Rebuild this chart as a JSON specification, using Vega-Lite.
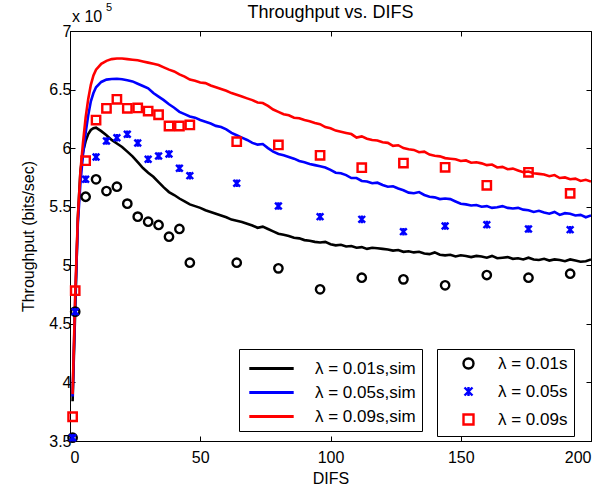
{
  "$schema": "https://vega.github.io/schema/vega-lite/v6.json",
  "width": 521,
  "height": 410,
  "autosize": {"type": "none"},
  "padding": {"left": 70, "top": 31, "right": 16, "bottom": 52},
  "background": "white",
  "title": {"text": "Throughput vs. DIFS", "font": "Liberation Sans", "fontSize": 18, "fontWeight": "normal", "color": "black", "anchor": "middle", "offset": -20},
  "config": {
    "view": {"stroke": "black", "strokeWidth": 1},
    "axis": {"grid": false, "labelFont": "Liberation Sans", "labelFontSize": 16, "labelColor": "black", "tickColor": "black", "domainColor": "black", "titleFont": "Liberation Sans", "titleFontSize": 16, "titleFontWeight": "normal", "titleColor": "black", "tickSize": -5, "labelPadding": 4},
    "legend": {"labelFont": "Liberation Sans", "labelFontSize": 17, "labelColor": "black"}
  },
  "datasets": {
    "sim": [
      {"DIFS":1,"bps":384000,"series":"λ = 0.01s,sim"},{"DIFS":2,"bps":462000,"series":"λ = 0.01s,sim"},{"DIFS":3,"bps":540000,"series":"λ = 0.01s,sim"},{"DIFS":4,"bps":580000,"series":"λ = 0.01s,sim"},{"DIFS":5,"bps":597000,"series":"λ = 0.01s,sim"},{"DIFS":6,"bps":606000,"series":"λ = 0.01s,sim"},{"DIFS":7,"bps":612000,"series":"λ = 0.01s,sim"},{"DIFS":8,"bps":615500,"series":"λ = 0.01s,sim"},{"DIFS":9,"bps":617000,"series":"λ = 0.01s,sim"},{"DIFS":10,"bps":617500,"series":"λ = 0.01s,sim"},
      {"DIFS":12,"bps":614500,"series":"λ = 0.01s,sim"},{"DIFS":14,"bps":611000,"series":"λ = 0.01s,sim"},{"DIFS":16,"bps":607000,"series":"λ = 0.01s,sim"},{"DIFS":18,"bps":604000,"series":"λ = 0.01s,sim"},{"DIFS":20,"bps":601000,"series":"λ = 0.01s,sim"},{"DIFS":22,"bps":597000,"series":"λ = 0.01s,sim"},{"DIFS":24,"bps":593000,"series":"λ = 0.01s,sim"},{"DIFS":26,"bps":588000,"series":"λ = 0.01s,sim"},{"DIFS":28,"bps":583000,"series":"λ = 0.01s,sim"},{"DIFS":30,"bps":579000,"series":"λ = 0.01s,sim"},
      {"DIFS":32,"bps":575600,"series":"λ = 0.01s,sim"},{"DIFS":34,"bps":571000,"series":"λ = 0.01s,sim"},{"DIFS":36,"bps":566500,"series":"λ = 0.01s,sim"},{"DIFS":38,"bps":562500,"series":"λ = 0.01s,sim"},{"DIFS":40,"bps":560000,"series":"λ = 0.01s,sim"},{"DIFS":42,"bps":557000,"series":"λ = 0.01s,sim"},{"DIFS":44,"bps":554500,"series":"λ = 0.01s,sim"},{"DIFS":46,"bps":552000,"series":"λ = 0.01s,sim"},{"DIFS":48,"bps":550500,"series":"λ = 0.01s,sim"},{"DIFS":50,"bps":549000,"series":"λ = 0.01s,sim"},
      {"DIFS":52,"bps":547000,"series":"λ = 0.01s,sim"},{"DIFS":54,"bps":545500,"series":"λ = 0.01s,sim"},{"DIFS":56,"bps":544000,"series":"λ = 0.01s,sim"},{"DIFS":58,"bps":542500,"series":"λ = 0.01s,sim"},{"DIFS":60,"bps":541000,"series":"λ = 0.01s,sim"},{"DIFS":62,"bps":539000,"series":"λ = 0.01s,sim"},{"DIFS":64,"bps":538000,"series":"λ = 0.01s,sim"},{"DIFS":66,"bps":537000,"series":"λ = 0.01s,sim"},{"DIFS":68,"bps":535500,"series":"λ = 0.01s,sim"},{"DIFS":70,"bps":534000,"series":"λ = 0.01s,sim"},
      {"DIFS":72,"bps":532000,"series":"λ = 0.01s,sim"},{"DIFS":74,"bps":533000,"series":"λ = 0.01s,sim"},{"DIFS":76,"bps":531000,"series":"λ = 0.01s,sim"},{"DIFS":78,"bps":529000,"series":"λ = 0.01s,sim"},{"DIFS":80,"bps":527000,"series":"λ = 0.01s,sim"},{"DIFS":82,"bps":526000,"series":"λ = 0.01s,sim"},{"DIFS":84,"bps":525000,"series":"λ = 0.01s,sim"},{"DIFS":86,"bps":523500,"series":"λ = 0.01s,sim"},{"DIFS":88,"bps":523000,"series":"λ = 0.01s,sim"},{"DIFS":90,"bps":521500,"series":"λ = 0.01s,sim"},
      {"DIFS":92,"bps":521000,"series":"λ = 0.01s,sim"},{"DIFS":94,"bps":520000,"series":"λ = 0.01s,sim"},{"DIFS":96,"bps":519500,"series":"λ = 0.01s,sim"},{"DIFS":98,"bps":520000,"series":"λ = 0.01s,sim"},{"DIFS":100,"bps":518000,"series":"λ = 0.01s,sim"},{"DIFS":102,"bps":517000,"series":"λ = 0.01s,sim"},{"DIFS":104,"bps":517500,"series":"λ = 0.01s,sim"},{"DIFS":106,"bps":516000,"series":"λ = 0.01s,sim"},{"DIFS":108,"bps":516500,"series":"λ = 0.01s,sim"},{"DIFS":110,"bps":515000,"series":"λ = 0.01s,sim"},
      {"DIFS":112,"bps":515500,"series":"λ = 0.01s,sim"},{"DIFS":114,"bps":514000,"series":"λ = 0.01s,sim"},{"DIFS":116,"bps":515000,"series":"λ = 0.01s,sim"},{"DIFS":118,"bps":514500,"series":"λ = 0.01s,sim"},{"DIFS":120,"bps":514000,"series":"λ = 0.01s,sim"},{"DIFS":122,"bps":513500,"series":"λ = 0.01s,sim"},{"DIFS":124,"bps":512500,"series":"λ = 0.01s,sim"},{"DIFS":126,"bps":513000,"series":"λ = 0.01s,sim"},{"DIFS":128,"bps":511500,"series":"λ = 0.01s,sim"},{"DIFS":130,"bps":512000,"series":"λ = 0.01s,sim"},
      {"DIFS":132,"bps":511000,"series":"λ = 0.01s,sim"},{"DIFS":134,"bps":511500,"series":"λ = 0.01s,sim"},{"DIFS":136,"bps":510000,"series":"λ = 0.01s,sim"},{"DIFS":138,"bps":509500,"series":"λ = 0.01s,sim"},{"DIFS":140,"bps":511000,"series":"λ = 0.01s,sim"},{"DIFS":142,"bps":509000,"series":"λ = 0.01s,sim"},{"DIFS":144,"bps":508500,"series":"λ = 0.01s,sim"},{"DIFS":146,"bps":509000,"series":"λ = 0.01s,sim"},{"DIFS":148,"bps":507500,"series":"λ = 0.01s,sim"},{"DIFS":150,"bps":508500,"series":"λ = 0.01s,sim"},
      {"DIFS":152,"bps":508000,"series":"λ = 0.01s,sim"},{"DIFS":154,"bps":507000,"series":"λ = 0.01s,sim"},{"DIFS":156,"bps":508000,"series":"λ = 0.01s,sim"},{"DIFS":158,"bps":507500,"series":"λ = 0.01s,sim"},{"DIFS":160,"bps":506500,"series":"λ = 0.01s,sim"},{"DIFS":162,"bps":508000,"series":"λ = 0.01s,sim"},{"DIFS":164,"bps":506000,"series":"λ = 0.01s,sim"},{"DIFS":166,"bps":506500,"series":"λ = 0.01s,sim"},{"DIFS":168,"bps":507000,"series":"λ = 0.01s,sim"},{"DIFS":170,"bps":505500,"series":"λ = 0.01s,sim"},
      {"DIFS":172,"bps":506000,"series":"λ = 0.01s,sim"},{"DIFS":174,"bps":505000,"series":"λ = 0.01s,sim"},{"DIFS":176,"bps":506500,"series":"λ = 0.01s,sim"},{"DIFS":178,"bps":505000,"series":"λ = 0.01s,sim"},{"DIFS":180,"bps":504500,"series":"λ = 0.01s,sim"},{"DIFS":182,"bps":505500,"series":"λ = 0.01s,sim"},{"DIFS":184,"bps":504000,"series":"λ = 0.01s,sim"},{"DIFS":186,"bps":505000,"series":"λ = 0.01s,sim"},{"DIFS":188,"bps":504500,"series":"λ = 0.01s,sim"},{"DIFS":190,"bps":503500,"series":"λ = 0.01s,sim"},
      {"DIFS":192,"bps":505000,"series":"λ = 0.01s,sim"},{"DIFS":194,"bps":504000,"series":"λ = 0.01s,sim"},{"DIFS":196,"bps":503000,"series":"λ = 0.01s,sim"},{"DIFS":198,"bps":503500,"series":"λ = 0.01s,sim"},{"DIFS":200,"bps":505000,"series":"λ = 0.01s,sim"},

      {"DIFS":1,"bps":388000,"series":"λ = 0.05s,sim"},{"DIFS":2,"bps":470000,"series":"λ = 0.05s,sim"},{"DIFS":3,"bps":535000,"series":"λ = 0.05s,sim"},{"DIFS":4,"bps":570000,"series":"λ = 0.05s,sim"},{"DIFS":5,"bps":595000,"series":"λ = 0.05s,sim"},{"DIFS":6,"bps":613000,"series":"λ = 0.05s,sim"},{"DIFS":7,"bps":628000,"series":"λ = 0.05s,sim"},{"DIFS":8,"bps":640000,"series":"λ = 0.05s,sim"},{"DIFS":9,"bps":647000,"series":"λ = 0.05s,sim"},{"DIFS":10,"bps":652000,"series":"λ = 0.05s,sim"},
      {"DIFS":12,"bps":656500,"series":"λ = 0.05s,sim"},{"DIFS":14,"bps":658500,"series":"λ = 0.05s,sim"},{"DIFS":16,"bps":659000,"series":"λ = 0.05s,sim"},{"DIFS":18,"bps":659200,"series":"λ = 0.05s,sim"},{"DIFS":20,"bps":658800,"series":"λ = 0.05s,sim"},{"DIFS":22,"bps":658000,"series":"λ = 0.05s,sim"},{"DIFS":24,"bps":657000,"series":"λ = 0.05s,sim"},{"DIFS":26,"bps":655000,"series":"λ = 0.05s,sim"},{"DIFS":28,"bps":653000,"series":"λ = 0.05s,sim"},{"DIFS":30,"bps":651000,"series":"λ = 0.05s,sim"},
      {"DIFS":32,"bps":647000,"series":"λ = 0.05s,sim"},{"DIFS":34,"bps":644000,"series":"λ = 0.05s,sim"},{"DIFS":36,"bps":641000,"series":"λ = 0.05s,sim"},{"DIFS":38,"bps":637500,"series":"λ = 0.05s,sim"},{"DIFS":40,"bps":634500,"series":"λ = 0.05s,sim"},{"DIFS":42,"bps":631000,"series":"λ = 0.05s,sim"},{"DIFS":44,"bps":629000,"series":"λ = 0.05s,sim"},{"DIFS":46,"bps":627000,"series":"λ = 0.05s,sim"},{"DIFS":48,"bps":626000,"series":"λ = 0.05s,sim"},{"DIFS":50,"bps":624000,"series":"λ = 0.05s,sim"},
      {"DIFS":52,"bps":622500,"series":"λ = 0.05s,sim"},{"DIFS":54,"bps":621000,"series":"λ = 0.05s,sim"},{"DIFS":56,"bps":619000,"series":"λ = 0.05s,sim"},{"DIFS":58,"bps":618000,"series":"λ = 0.05s,sim"},{"DIFS":60,"bps":616000,"series":"λ = 0.05s,sim"},{"DIFS":62,"bps":613000,"series":"λ = 0.05s,sim"},{"DIFS":64,"bps":611000,"series":"λ = 0.05s,sim"},{"DIFS":66,"bps":609000,"series":"λ = 0.05s,sim"},{"DIFS":68,"bps":607000,"series":"λ = 0.05s,sim"},{"DIFS":70,"bps":604500,"series":"λ = 0.05s,sim"},
      {"DIFS":72,"bps":603000,"series":"λ = 0.05s,sim"},{"DIFS":74,"bps":603500,"series":"λ = 0.05s,sim"},{"DIFS":76,"bps":600000,"series":"λ = 0.05s,sim"},{"DIFS":78,"bps":597000,"series":"λ = 0.05s,sim"},{"DIFS":80,"bps":595000,"series":"λ = 0.05s,sim"},{"DIFS":82,"bps":594000,"series":"λ = 0.05s,sim"},{"DIFS":84,"bps":592500,"series":"λ = 0.05s,sim"},{"DIFS":86,"bps":591000,"series":"λ = 0.05s,sim"},{"DIFS":88,"bps":589000,"series":"λ = 0.05s,sim"},{"DIFS":90,"bps":588000,"series":"λ = 0.05s,sim"},
      {"DIFS":92,"bps":586500,"series":"λ = 0.05s,sim"},{"DIFS":94,"bps":585500,"series":"λ = 0.05s,sim"},{"DIFS":96,"bps":584500,"series":"λ = 0.05s,sim"},{"DIFS":98,"bps":583500,"series":"λ = 0.05s,sim"},{"DIFS":100,"bps":581500,"series":"λ = 0.05s,sim"},{"DIFS":102,"bps":579000,"series":"λ = 0.05s,sim"},{"DIFS":104,"bps":578500,"series":"λ = 0.05s,sim"},{"DIFS":106,"bps":577000,"series":"λ = 0.05s,sim"},{"DIFS":108,"bps":574500,"series":"λ = 0.05s,sim"},{"DIFS":110,"bps":574500,"series":"λ = 0.05s,sim"},
      {"DIFS":112,"bps":572000,"series":"λ = 0.05s,sim"},{"DIFS":114,"bps":571500,"series":"λ = 0.05s,sim"},{"DIFS":116,"bps":570000,"series":"λ = 0.05s,sim"},{"DIFS":118,"bps":570500,"series":"λ = 0.05s,sim"},{"DIFS":120,"bps":568500,"series":"λ = 0.05s,sim"},{"DIFS":122,"bps":567000,"series":"λ = 0.05s,sim"},{"DIFS":124,"bps":567500,"series":"λ = 0.05s,sim"},{"DIFS":126,"bps":565500,"series":"λ = 0.05s,sim"},{"DIFS":128,"bps":564000,"series":"λ = 0.05s,sim"},{"DIFS":130,"bps":562000,"series":"λ = 0.05s,sim"},
      {"DIFS":132,"bps":561500,"series":"λ = 0.05s,sim"},{"DIFS":134,"bps":562500,"series":"λ = 0.05s,sim"},{"DIFS":136,"bps":560000,"series":"λ = 0.05s,sim"},{"DIFS":138,"bps":558500,"series":"λ = 0.05s,sim"},{"DIFS":140,"bps":558000,"series":"λ = 0.05s,sim"},{"DIFS":142,"bps":556500,"series":"λ = 0.05s,sim"},{"DIFS":144,"bps":557000,"series":"λ = 0.05s,sim"},{"DIFS":146,"bps":556500,"series":"λ = 0.05s,sim"},{"DIFS":148,"bps":554500,"series":"λ = 0.05s,sim"},{"DIFS":150,"bps":552500,"series":"λ = 0.05s,sim"},
      {"DIFS":152,"bps":552000,"series":"λ = 0.05s,sim"},{"DIFS":154,"bps":551000,"series":"λ = 0.05s,sim"},{"DIFS":156,"bps":551500,"series":"λ = 0.05s,sim"},{"DIFS":158,"bps":550000,"series":"λ = 0.05s,sim"},{"DIFS":160,"bps":550500,"series":"λ = 0.05s,sim"},{"DIFS":162,"bps":549000,"series":"λ = 0.05s,sim"},{"DIFS":164,"bps":549500,"series":"λ = 0.05s,sim"},{"DIFS":166,"bps":550500,"series":"λ = 0.05s,sim"},{"DIFS":168,"bps":549000,"series":"λ = 0.05s,sim"},{"DIFS":170,"bps":548500,"series":"λ = 0.05s,sim"},
      {"DIFS":172,"bps":549000,"series":"λ = 0.05s,sim"},{"DIFS":174,"bps":547500,"series":"λ = 0.05s,sim"},{"DIFS":176,"bps":547000,"series":"λ = 0.05s,sim"},{"DIFS":178,"bps":545500,"series":"λ = 0.05s,sim"},{"DIFS":180,"bps":546500,"series":"λ = 0.05s,sim"},{"DIFS":182,"bps":545000,"series":"λ = 0.05s,sim"},{"DIFS":184,"bps":544000,"series":"λ = 0.05s,sim"},{"DIFS":186,"bps":545500,"series":"λ = 0.05s,sim"},{"DIFS":188,"bps":543000,"series":"λ = 0.05s,sim"},{"DIFS":190,"bps":544500,"series":"λ = 0.05s,sim"},
      {"DIFS":192,"bps":544000,"series":"λ = 0.05s,sim"},{"DIFS":194,"bps":542500,"series":"λ = 0.05s,sim"},{"DIFS":196,"bps":543000,"series":"λ = 0.05s,sim"},{"DIFS":198,"bps":541000,"series":"λ = 0.05s,sim"},{"DIFS":200,"bps":542500,"series":"λ = 0.05s,sim"},

      {"DIFS":1,"bps":390000,"series":"λ = 0.09s,sim"},{"DIFS":2,"bps":475000,"series":"λ = 0.09s,sim"},{"DIFS":3,"bps":540000,"series":"λ = 0.09s,sim"},{"DIFS":4,"bps":580000,"series":"λ = 0.09s,sim"},{"DIFS":5,"bps":605000,"series":"λ = 0.09s,sim"},{"DIFS":6,"bps":626000,"series":"λ = 0.09s,sim"},{"DIFS":7,"bps":642000,"series":"λ = 0.09s,sim"},{"DIFS":8,"bps":654000,"series":"λ = 0.09s,sim"},{"DIFS":9,"bps":662000,"series":"λ = 0.09s,sim"},{"DIFS":10,"bps":667000,"series":"λ = 0.09s,sim"},
      {"DIFS":12,"bps":672000,"series":"λ = 0.09s,sim"},{"DIFS":14,"bps":674500,"series":"λ = 0.09s,sim"},{"DIFS":16,"bps":676000,"series":"λ = 0.09s,sim"},{"DIFS":18,"bps":676500,"series":"λ = 0.09s,sim"},{"DIFS":20,"bps":676500,"series":"λ = 0.09s,sim"},{"DIFS":22,"bps":676000,"series":"λ = 0.09s,sim"},{"DIFS":24,"bps":675500,"series":"λ = 0.09s,sim"},{"DIFS":26,"bps":675000,"series":"λ = 0.09s,sim"},{"DIFS":28,"bps":674000,"series":"λ = 0.09s,sim"},{"DIFS":30,"bps":673000,"series":"λ = 0.09s,sim"},
      {"DIFS":32,"bps":672000,"series":"λ = 0.09s,sim"},{"DIFS":34,"bps":671000,"series":"λ = 0.09s,sim"},{"DIFS":36,"bps":669000,"series":"λ = 0.09s,sim"},{"DIFS":38,"bps":667000,"series":"λ = 0.09s,sim"},{"DIFS":40,"bps":665500,"series":"λ = 0.09s,sim"},{"DIFS":42,"bps":663000,"series":"λ = 0.09s,sim"},{"DIFS":44,"bps":661000,"series":"λ = 0.09s,sim"},{"DIFS":46,"bps":658500,"series":"λ = 0.09s,sim"},{"DIFS":48,"bps":657500,"series":"λ = 0.09s,sim"},{"DIFS":50,"bps":656000,"series":"λ = 0.09s,sim"},
      {"DIFS":52,"bps":655500,"series":"λ = 0.09s,sim"},{"DIFS":54,"bps":653500,"series":"λ = 0.09s,sim"},{"DIFS":56,"bps":652000,"series":"λ = 0.09s,sim"},{"DIFS":58,"bps":650500,"series":"λ = 0.09s,sim"},{"DIFS":60,"bps":649000,"series":"λ = 0.09s,sim"},{"DIFS":62,"bps":647000,"series":"λ = 0.09s,sim"},{"DIFS":64,"bps":645500,"series":"λ = 0.09s,sim"},{"DIFS":66,"bps":644000,"series":"λ = 0.09s,sim"},{"DIFS":68,"bps":642500,"series":"λ = 0.09s,sim"},{"DIFS":70,"bps":641000,"series":"λ = 0.09s,sim"},
      {"DIFS":72,"bps":639000,"series":"λ = 0.09s,sim"},{"DIFS":74,"bps":638500,"series":"λ = 0.09s,sim"},{"DIFS":76,"bps":636000,"series":"λ = 0.09s,sim"},{"DIFS":78,"bps":633000,"series":"λ = 0.09s,sim"},{"DIFS":80,"bps":631000,"series":"λ = 0.09s,sim"},{"DIFS":82,"bps":629000,"series":"λ = 0.09s,sim"},{"DIFS":84,"bps":628000,"series":"λ = 0.09s,sim"},{"DIFS":86,"bps":626000,"series":"λ = 0.09s,sim"},{"DIFS":88,"bps":625500,"series":"λ = 0.09s,sim"},{"DIFS":90,"bps":624000,"series":"λ = 0.09s,sim"},
      {"DIFS":92,"bps":623000,"series":"λ = 0.09s,sim"},{"DIFS":94,"bps":621500,"series":"λ = 0.09s,sim"},{"DIFS":96,"bps":620500,"series":"λ = 0.09s,sim"},{"DIFS":98,"bps":618000,"series":"λ = 0.09s,sim"},{"DIFS":100,"bps":617000,"series":"λ = 0.09s,sim"},{"DIFS":102,"bps":615000,"series":"λ = 0.09s,sim"},{"DIFS":104,"bps":614000,"series":"λ = 0.09s,sim"},{"DIFS":106,"bps":613000,"series":"λ = 0.09s,sim"},{"DIFS":108,"bps":612000,"series":"λ = 0.09s,sim"},{"DIFS":110,"bps":609000,"series":"λ = 0.09s,sim"},
      {"DIFS":112,"bps":610000,"series":"λ = 0.09s,sim"},{"DIFS":114,"bps":608000,"series":"λ = 0.09s,sim"},{"DIFS":116,"bps":607000,"series":"λ = 0.09s,sim"},{"DIFS":118,"bps":606500,"series":"λ = 0.09s,sim"},{"DIFS":120,"bps":605000,"series":"λ = 0.09s,sim"},{"DIFS":122,"bps":604500,"series":"λ = 0.09s,sim"},{"DIFS":124,"bps":602000,"series":"λ = 0.09s,sim"},{"DIFS":126,"bps":602500,"series":"λ = 0.09s,sim"},{"DIFS":128,"bps":600000,"series":"λ = 0.09s,sim"},{"DIFS":130,"bps":599000,"series":"λ = 0.09s,sim"},
      {"DIFS":132,"bps":598500,"series":"λ = 0.09s,sim"},{"DIFS":134,"bps":596500,"series":"λ = 0.09s,sim"},{"DIFS":136,"bps":597000,"series":"λ = 0.09s,sim"},{"DIFS":138,"bps":594500,"series":"λ = 0.09s,sim"},{"DIFS":140,"bps":593500,"series":"λ = 0.09s,sim"},{"DIFS":142,"bps":593000,"series":"λ = 0.09s,sim"},{"DIFS":144,"bps":591500,"series":"λ = 0.09s,sim"},{"DIFS":146,"bps":591000,"series":"λ = 0.09s,sim"},{"DIFS":148,"bps":590500,"series":"λ = 0.09s,sim"},{"DIFS":150,"bps":589000,"series":"λ = 0.09s,sim"},
      {"DIFS":152,"bps":589500,"series":"λ = 0.09s,sim"},{"DIFS":154,"bps":587500,"series":"λ = 0.09s,sim"},{"DIFS":156,"bps":588000,"series":"λ = 0.09s,sim"},{"DIFS":158,"bps":587000,"series":"λ = 0.09s,sim"},{"DIFS":160,"bps":585500,"series":"λ = 0.09s,sim"},{"DIFS":162,"bps":586000,"series":"λ = 0.09s,sim"},{"DIFS":164,"bps":583500,"series":"λ = 0.09s,sim"},{"DIFS":166,"bps":584000,"series":"λ = 0.09s,sim"},{"DIFS":168,"bps":582000,"series":"λ = 0.09s,sim"},{"DIFS":170,"bps":582500,"series":"λ = 0.09s,sim"},
      {"DIFS":172,"bps":581000,"series":"λ = 0.09s,sim"},{"DIFS":174,"bps":579500,"series":"λ = 0.09s,sim"},{"DIFS":176,"bps":580000,"series":"λ = 0.09s,sim"},{"DIFS":178,"bps":578500,"series":"λ = 0.09s,sim"},{"DIFS":180,"bps":578000,"series":"λ = 0.09s,sim"},{"DIFS":182,"bps":577500,"series":"λ = 0.09s,sim"},{"DIFS":184,"bps":576000,"series":"λ = 0.09s,sim"},{"DIFS":186,"bps":577000,"series":"λ = 0.09s,sim"},{"DIFS":188,"bps":574500,"series":"λ = 0.09s,sim"},{"DIFS":190,"bps":575000,"series":"λ = 0.09s,sim"},
      {"DIFS":192,"bps":573500,"series":"λ = 0.09s,sim"},{"DIFS":194,"bps":574000,"series":"λ = 0.09s,sim"},{"DIFS":196,"bps":572000,"series":"λ = 0.09s,sim"},{"DIFS":198,"bps":573000,"series":"λ = 0.09s,sim"},{"DIFS":200,"bps":571500,"series":"λ = 0.09s,sim"}
    ],
    "model": [
      {"DIFS":1,"bps":352800,"series":"λ = 0.01s"},{"DIFS":2,"bps":460400,"series":"λ = 0.01s"},{"DIFS":6,"bps":558500,"series":"λ = 0.01s"},{"DIFS":10,"bps":573400,"series":"λ = 0.01s"},{"DIFS":14,"bps":563400,"series":"λ = 0.01s"},{"DIFS":18,"bps":567100,"series":"λ = 0.01s"},{"DIFS":22,"bps":552600,"series":"λ = 0.01s"},{"DIFS":26,"bps":541500,"series":"λ = 0.01s"},{"DIFS":30,"bps":537200,"series":"λ = 0.01s"},{"DIFS":34,"bps":534400,"series":"λ = 0.01s"},{"DIFS":38,"bps":524400,"series":"λ = 0.01s"},{"DIFS":42,"bps":531000,"series":"λ = 0.01s"},{"DIFS":46,"bps":502200,"series":"λ = 0.01s"},{"DIFS":64,"bps":502200,"series":"λ = 0.01s"},{"DIFS":80,"bps":497400,"series":"λ = 0.01s"},{"DIFS":96,"bps":479500,"series":"λ = 0.01s"},{"DIFS":112,"bps":489400,"series":"λ = 0.01s"},{"DIFS":128,"bps":488000,"series":"λ = 0.01s"},{"DIFS":144,"bps":482900,"series":"λ = 0.01s"},{"DIFS":160,"bps":491700,"series":"λ = 0.01s"},{"DIFS":176,"bps":489400,"series":"λ = 0.01s"},{"DIFS":192,"bps":492800,"series":"λ = 0.01s"},
      {"DIFS":1,"bps":352800,"series":"λ = 0.05s"},{"DIFS":2,"bps":460400,"series":"λ = 0.05s"},{"DIFS":6,"bps":573400,"series":"λ = 0.05s"},{"DIFS":10,"bps":592400,"series":"λ = 0.05s"},{"DIFS":14,"bps":606100,"series":"λ = 0.05s"},{"DIFS":18,"bps":608900,"series":"λ = 0.05s"},{"DIFS":22,"bps":611800,"series":"λ = 0.05s"},{"DIFS":26,"bps":604400,"series":"λ = 0.05s"},{"DIFS":30,"bps":590500,"series":"λ = 0.05s"},{"DIFS":34,"bps":593300,"series":"λ = 0.05s"},{"DIFS":38,"bps":595000,"series":"λ = 0.05s"},{"DIFS":42,"bps":582800,"series":"λ = 0.05s"},{"DIFS":46,"bps":576500,"series":"λ = 0.05s"},{"DIFS":64,"bps":570000,"series":"λ = 0.05s"},{"DIFS":80,"bps":550600,"series":"λ = 0.05s"},{"DIFS":96,"bps":541500,"series":"λ = 0.05s"},{"DIFS":112,"bps":539200,"series":"λ = 0.05s"},{"DIFS":128,"bps":528700,"series":"λ = 0.05s"},{"DIFS":144,"bps":533500,"series":"λ = 0.05s"},{"DIFS":160,"bps":534700,"series":"λ = 0.05s"},{"DIFS":176,"bps":531000,"series":"λ = 0.05s"},{"DIFS":192,"bps":530400,"series":"λ = 0.05s"},
      {"DIFS":1,"bps":370700,"series":"λ = 0.09s"},{"DIFS":2,"bps":478300,"series":"λ = 0.09s"},{"DIFS":6,"bps":589300,"series":"λ = 0.09s"},{"DIFS":10,"bps":624000,"series":"λ = 0.09s"},{"DIFS":14,"bps":634000,"series":"λ = 0.09s"},{"DIFS":18,"bps":641700,"series":"λ = 0.09s"},{"DIFS":22,"bps":634000,"series":"λ = 0.09s"},{"DIFS":26,"bps":634300,"series":"λ = 0.09s"},{"DIFS":30,"bps":631700,"series":"λ = 0.09s"},{"DIFS":34,"bps":628500,"series":"λ = 0.09s"},{"DIFS":38,"bps":618900,"series":"λ = 0.09s"},{"DIFS":42,"bps":618900,"series":"λ = 0.09s"},{"DIFS":46,"bps":619800,"series":"λ = 0.09s"},{"DIFS":64,"bps":605500,"series":"λ = 0.09s"},{"DIFS":80,"bps":602700,"series":"λ = 0.09s"},{"DIFS":96,"bps":593900,"series":"λ = 0.09s"},{"DIFS":112,"bps":583300,"series":"λ = 0.09s"},{"DIFS":128,"bps":587300,"series":"λ = 0.09s"},{"DIFS":144,"bps":583600,"series":"λ = 0.09s"},{"DIFS":160,"bps":568300,"series":"λ = 0.09s"},{"DIFS":176,"bps":579400,"series":"λ = 0.09s"},{"DIFS":192,"bps":561400,"series":"λ = 0.09s"}
    ]
  },
  "resolve": {"scale": {"color": "independent", "shape": "independent"}, "axis": {"x": "independent", "y": "independent"}},
  "layer": [
    {
      "data": {"name": "sim"},
      "mark": {"type": "line", "strokeWidth": 2.6, "clip": true},
      "encoding": {
        "x": {"field": "DIFS", "type": "quantitative", "scale": {"domain": [0, 200], "nice": false, "zero": false},
              "axis": {"orient": "bottom", "values": [0, 50, 100, 150, 200], "title": "DIFS", "titlePadding": 5, "labelPadding": 13}},
        "y": {"field": "bps", "type": "quantitative", "scale": {"domain": [350000, 700000], "nice": false, "zero": false},
              "axis": {"orient": "left", "values": [350000, 400000, 450000, 500000, 550000, 600000, 650000, 700000], "labelExpr": "'' + (datum.value / 100000)", "title": "Throughput (bits/sec)", "titlePadding": 12}},
        "color": {"field": "series", "type": "nominal",
                  "scale": {"domain": ["λ = 0.01s,sim", "λ = 0.05s,sim", "λ = 0.09s,sim"], "range": ["#000000", "#0000ff", "#ff0000"]},
                  "legend": {"title": null, "orient": "none", "legendX": 169, "legendY": 318, "strokeColor": "black", "fillColor": "white", "padding": 6, "symbolType": "M-1.85,0L1.85,0", "symbolStrokeWidth": 3, "symbolSize": 576, "symbolOffset": 13, "rowPadding": 2, "labelOffset": 30}}
      }
    },
    {
      "data": {"name": "model"},
      "mark": {"type": "point", "filled": false, "strokeWidth": 2.4, "size": 70, "opacity": 1},
      "encoding": {
        "x": {"field": "DIFS", "type": "quantitative", "axis": null},
        "y": {"field": "bps", "type": "quantitative", "axis": null},
        "color": {"field": "series", "type": "nominal",
                  "scale": {"domain": ["λ = 0.01s", "λ = 0.05s", "λ = 0.09s"], "range": ["#000000", "#0000ff", "#ff0000"]},
                  "legend": {"title": null, "orient": "none", "legendX": 367, "legendY": 318, "strokeColor": "black", "fillColor": "white", "padding": 6, "rowPadding": 8, "labelOffset": 21, "symbolOffset": 17, "symbolStrokeWidth": 2.4}},
        "shape": {"field": "series", "type": "nominal",
                  "scale": {"domain": ["λ = 0.01s", "λ = 0.05s", "λ = 0.09s"], "range": ["circle", "M-0.8,-0.8L0.8,0.8M-0.8,0.8L0.8,-0.8M0,-0.9L0,0.9", "square"]},
                  "legend": {"title": null, "orient": "none", "legendX": 367, "legendY": 318}}
      }
    },
    {
      "data": {"values": [{"DIFS": 0, "bps": 700000, "label": "x 10"}]},
      "mark": {"type": "text", "align": "left", "baseline": "alphabetic", "dx": 2, "dy": -9, "font": "Liberation Sans", "fontSize": 16, "color": "black"},
      "encoding": {
        "x": {"field": "DIFS", "type": "quantitative", "axis": {"orient": "top", "values": [0, 50, 100, 150, 200], "labels": false, "title": null, "domain": false}},
        "y": {"field": "bps", "type": "quantitative", "axis": {"orient": "right", "values": [350000, 400000, 450000, 500000, 550000, 600000, 650000, 700000], "labels": false, "title": null, "domain": false}},
        "text": {"field": "label"}
      }
    },
    {
      "data": {"values": [{"DIFS": 0, "bps": 700000, "label": "5"}]},
      "mark": {"type": "text", "align": "left", "baseline": "alphabetic", "dx": 36, "dy": -20, "font": "Liberation Sans", "fontSize": 11, "color": "black"},
      "encoding": {
        "x": {"field": "DIFS", "type": "quantitative", "axis": null},
        "y": {"field": "bps", "type": "quantitative", "axis": null},
        "text": {"field": "label"}
      }
    }
  ]
}
